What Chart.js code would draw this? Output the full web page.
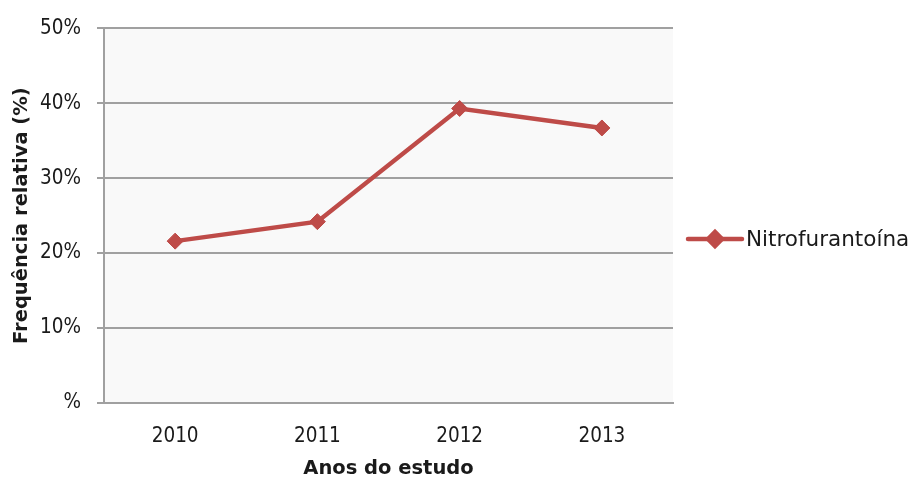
<!DOCTYPE html>
<html>
<head>
<meta charset="utf-8">
<script src="https://cdn.jsdelivr.net/npm/chart.js@4"></script>
<style>
  html, body { margin: 0; padding: 0; background: #fff; }
  #wrap { width: 913px; height: 479px; }
</style>
</head>
<body>
<div id="wrap"><canvas id="chartNitro" width="913" height="479"></canvas></div>
<script>
// Frequência relativa de Nitrofurantoína por ano
const anos = ["2010", "2011", "2012", "2013"];
const nitrofurantoina = [21.6, 24.2, 39.3, 36.7];
const yTicks = [0, 10, 20, 30, 40, 50];
const serieNome = "Nitrofurantoína";

const FONT_TICK = "'DejaVu Sans Condensed', 'DejaVu Sans', sans-serif";
const FONT = "'DejaVu Sans', sans-serif";
const RED = "#be4b48";
const TXT = "#1a1a1a";

// fundo cinzento da área do gráfico
const plotBg = {
  id: "plotBg",
  beforeDraw(chart) {
    const { ctx, chartArea: a } = chart;
    ctx.save();
    ctx.fillStyle = "#f9f9f9";
    ctx.fillRect(a.left, a.top, a.right - a.left, a.bottom - a.top);
    ctx.restore();
  }
};

// legenda à direita: linha + losango + nome
const sideLegend = {
  id: "sideLegend",
  afterDraw(chart) {
    const { ctx } = chart;
    const ds = chart.data.datasets[0];
    const x0 = 688, x1 = 742, y = 239;
    ctx.save();
    ctx.strokeStyle = ds.borderColor;
    ctx.lineWidth = 4.5;
    ctx.lineCap = "round";
    ctx.beginPath();
    ctx.moveTo(x0, y);
    ctx.lineTo(x1, y);
    ctx.stroke();
    Chart.helpers.drawPoint(ctx, { pointStyle: "rectRot", radius: 7, borderWidth: 1 }, (x0 + x1) / 2, y);
    ctx.fillStyle = ds.backgroundColor;
    ctx.fill();
    ctx.font = "21.5px " + FONT;
    ctx.fillStyle = TXT;
    ctx.textBaseline = "middle";
    ctx.fillText(ds.label, 746, y + 1);
    ctx.restore();
  }
};

new Chart(document.getElementById("chartNitro"), {
  type: "line",
  data: {
    labels: anos,
    datasets: [{
      label: serieNome,
      data: nitrofurantoina,
      borderColor: RED,
      backgroundColor: RED,
      borderWidth: 4.5,
      pointStyle: "rectRot",
      pointRadius: 8,
      pointBorderWidth: 1,
      pointBackgroundColor: RED,
      pointBorderColor: RED,
      tension: 0
    }]
  },
  options: {
    responsive: false,
    animation: false,
    layout: { padding: { left: 0, top: 26, right: 240, bottom: 0 } },
    plugins: {
      legend: { display: false },
      tooltip: { enabled: false }
    },
    scales: {
      x: {
        offset: true,
        grid: { display: false },
        border: { display: true, color: "#a0a0a0", width: 2 },
        ticks: {
          color: TXT,
          font: { family: FONT_TICK, size: 20.5 },
          padding: 13
        },
        title: {
          display: true,
          text: "Anos do estudo",
          color: TXT,
          font: { family: FONT, size: 19.5, weight: "bold" },
          padding: { top: 7, bottom: -2 }
        },
        afterFit(scale) { scale.height = 76; }
      },
      y: {
        min: 0,
        max: 50,
        afterBuildTicks(scale) { scale.ticks = yTicks.map(v => ({ value: v })); },
        grid: {
          color: "#a0a0a0",
          lineWidth: 2,
          tickLength: 7,
          drawTicks: true
        },
        border: { display: true, color: "#a0a0a0", width: 2 },
        ticks: {
          color: TXT,
          font: { family: FONT_TICK, size: 20.5 },
          padding: 16,
          callback: v => (v === 0 ? "%" : v + "%")
        },
        title: {
          display: true,
          text: "Frequência relativa (%)",
          color: TXT,
          font: { family: FONT, size: 19.5, weight: "bold" },
          padding: { top: 10 }
        },
        afterFit(scale) { scale.width = 104; }
      }
    }
  },
  plugins: [plotBg, sideLegend]
});
</script>
</body>
</html>
